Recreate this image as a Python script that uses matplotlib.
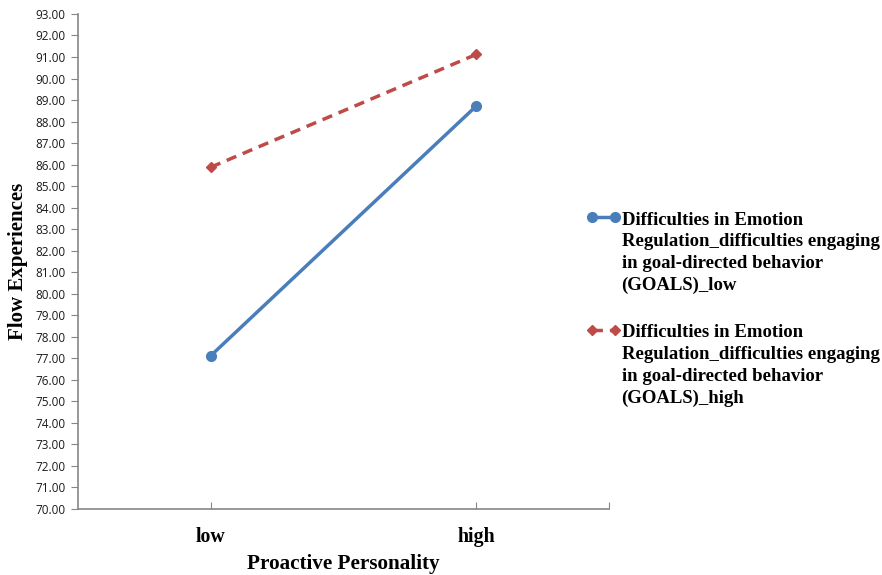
import matplotlib.pyplot as plt
import matplotlib.transforms as mtransforms
from matplotlib.legend_handler import HandlerLine2D

categories = ['low', 'high']
goals_low = [77.12, 88.72]
goals_high = [85.88, 91.12]
series_labels = [
    'Difficulties in Emotion\nRegulation_difficulties engaging\nin goal-directed behavior\n(GOALS)_low',
    'Difficulties in Emotion\nRegulation_difficulties engaging\nin goal-directed behavior\n(GOALS)_high',
]
yticks = [70 + i for i in range(24)]

serif = 'Liberation Serif'
LEG_SIZE = 13.5
LEG_LINESPACING = 1.36
HANDLE_SHIFT = 25.5  # points, moves the handle up to the first text line


class TopLineHandler(HandlerLine2D):
    # put the legend handle next to the first line of a multi-line label
    def create_artists(self, legend, orig_handle, xdescent, ydescent, width, height, fontsize, trans):
        artists = super().create_artists(legend, orig_handle, xdescent, ydescent, width, height, fontsize, trans)
        for a in artists:
            a.set_transform(mtransforms.Affine2D().translate(0, HANDLE_SHIFT) + trans)
        return artists


fig = plt.figure(figsize=(8.82, 5.75), dpi=100)
ax = fig.add_axes([0.0884, 0.1148, 0.602, 0.8609])

x = list(range(len(categories)))
ax.plot(x, goals_low, color='#4a7ebb', lw=2.5, marker='o', ms=7, label=series_labels[0])
ax.plot(x, goals_high, color='#be4b48', lw=2.5, ls=(0, (3, 2)), marker='D', ms=5.5, label=series_labels[1])

ax.set_xlim(-0.5, 1.5)
ax.set_ylim(70, 93)
ax.set_yticks(yticks)
ax.set_yticklabels([f'{v:.2f}' for v in yticks], fontsize=8.5, family='Open Sans')
ax.set_xticks([0, 1, 1.5])
ax.set_xticklabels(categories + [''], fontsize=14.3, family=serif, fontweight='bold')

for s in ['top', 'right']:
    ax.spines[s].set_visible(False)
for s in ['left', 'bottom']:
    ax.spines[s].set_color('#868686')
    ax.spines[s].set_linewidth(1.2)
ax.tick_params(axis='y', colors='#868686', length=5, labelcolor='#1a1a1a', pad=4)
ax.tick_params(axis='x', colors='#868686', length=5, direction='in', labelcolor='black', pad=13)

ax.set_xlabel('Proactive Personality', fontsize=15.2, family=serif, fontweight='bold', labelpad=5)
ax.set_ylabel('Flow Experiences', fontsize=15, family=serif, fontweight='bold', labelpad=5)

leg = ax.legend(loc='upper left', bbox_to_anchor=(0.925, 0.635), frameon=False, numpoints=2,
                handlelength=1.85, handletextpad=0.05, labelspacing=1.62,
                handler_map={plt.Line2D: TopLineHandler()},
                prop={'family': serif, 'weight': 'bold', 'size': LEG_SIZE})
for t in leg.get_texts():
    t.set_linespacing(LEG_LINESPACING)

fig.savefig('out.png', dpi=100)
